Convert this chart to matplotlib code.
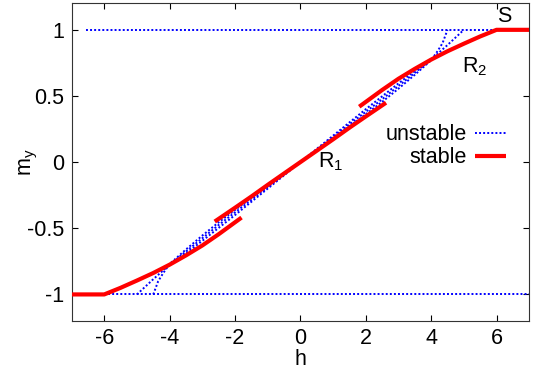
import numpy as np
import matplotlib
matplotlib.use("Agg")
import matplotlib.pyplot as plt

plt.rcParams['font.family'] = ['Liberation Sans', 'DejaVu Sans']
plt.rcParams['mathtext.default'] = 'regular'

# stable branches (red)
h_st_lo = [-7, -6, -5.5, -5, -4.5, -4, -3.5, -3, -2.5, -2, -1.8]
m_st_lo = [-1, -1, -0.95, -0.895, -0.838, -0.775, -0.705, -0.63, -0.545, -0.455, -0.419]
h_st_mid = [-2.62, -2, -1.5, -1, -0.5, 0, 0.5, 1, 1.5, 2, 2.62]
m_st_mid = [-0.449, -0.345, -0.26, -0.172, -0.086, 0, 0.086, 0.172, 0.26, 0.345, 0.449]
h_st_hi = [1.8, 2, 2.5, 3, 3.5, 4, 4.5, 5, 5.5, 6, 7]
m_st_hi = [0.419, 0.455, 0.545, 0.63, 0.705, 0.775, 0.838, 0.895, 0.95, 1, 1]

# unstable branches (blue)
h_un_top = [-6.55, 6]
m_un_top = [1, 1]
h_un_bot = [-6, 7]
m_un_bot = [-1, -1]
h_un_a = [-4.5, -4.35, -4.2, -4, -3.5, -3, -2.5, -2, -1.5, -1, -0.5, 0,
          0.5, 1, 1.5, 2, 2.5, 3, 3.5, 4, 4.2, 4.35, 4.5]
m_un_a = [-1, -0.9, -0.84, -0.77, -0.66, -0.555, -0.455, -0.362, -0.27, -0.18, -0.09, 0,
          0.09, 0.18, 0.27, 0.362, 0.455, 0.555, 0.66, 0.77, 0.84, 0.9, 1]
h_un_b = [-5, -4.5, -4, -3.5, -3, -2.5, -2, -1.5, -1, -0.5, 0,
          0.5, 1, 1.5, 2, 2.5, 3, 3.5, 4, 4.5, 5]
m_un_b = [-1, -0.885, -0.775, -0.675, -0.575, -0.475, -0.38, -0.285, -0.19, -0.095, 0,
          0.095, 0.19, 0.285, 0.38, 0.475, 0.575, 0.675, 0.775, 0.885, 1]
h_un_c = [-4, -3.5, -3, -2.5, -2, -1.5, -1, -0.5, 0, 0.5, 1, 1.5, 2, 2.5, 3, 3.5, 4]
m_un_c = [-0.775, -0.69, -0.595, -0.497, -0.4, -0.3, -0.2, -0.1, 0,
          0.1, 0.2, 0.3, 0.4, 0.497, 0.595, 0.69, 0.775]

fig = plt.figure(figsize=(5.34, 3.74), dpi=100)
ax = fig.add_axes([0.134, 0.142, 0.857, 0.849])

dot = dict(color='blue', lw=1.4, linestyle=(0, (1, 1.1)), zorder=2)
ax.plot(h_un_top, m_un_top, label='unstable', **dot)
ax.plot(h_un_bot, m_un_bot, **dot)
ax.plot(h_un_a, m_un_a, **dot)
ax.plot(h_un_b, m_un_b, **dot)
ax.plot(h_un_c, m_un_c, **dot)

red = dict(color='red', lw=3, solid_capstyle='butt', solid_joinstyle='round', zorder=3)
ax.plot(h_st_lo, m_st_lo, label='stable', **red)
ax.plot(h_st_mid, m_st_mid, **red)
ax.plot(h_st_hi, m_st_hi, **red)

fs = 15.5
ax.text(0.55, 0.0, 'R$_1$', fontsize=fs, ha='left', va='center')
ax.text(4.95, 0.72, 'R$_2$', fontsize=fs, ha='left', va='center')
ax.text(6.25, 1.1, 'S', fontsize=fs, ha='center', va='center')

ax.set_xlim(-7, 7)
ax.set_ylim(-1.2, 1.2)
ax.set_xticks([-6, -4, -2, 0, 2, 4, 6])
ax.set_yticks([-1, -0.5, 0, 0.5, 1])
ax.set_yticklabels(['-1', '-0.5', '0', '0.5', '1'])
ax.set_xticklabels(['-6', '-4', '-2', '0', '2', '4', '6'])
ax.tick_params(direction='in', top=True, right=True, length=4, labelsize=fs, width=0.8, pad=5)
for s in ax.spines.values():
    s.set_linewidth(0.8)
    s.set_color('#333333')
ax.set_xlabel('h', fontsize=fs)
ax.set_ylabel('$m_y$', fontsize=fs)
ax.xaxis.set_label_coords(0.5, -0.09)
ax.yaxis.set_label_coords(-0.069, 0.5)

ax.legend(loc='center right', bbox_to_anchor=(0.972, 0.55), frameon=False,
          markerfirst=False, fontsize=fs, handlelength=1.4, handletextpad=0.4,
          labelspacing=0.1, borderpad=0)

plt.savefig('out.png', dpi=100)
